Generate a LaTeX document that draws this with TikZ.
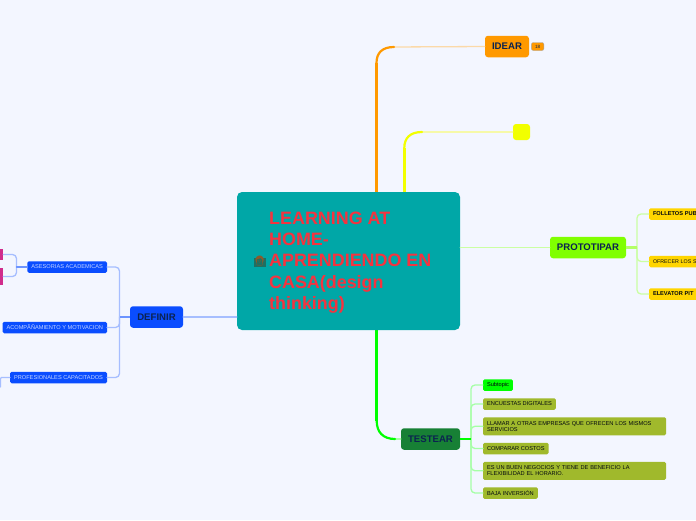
\documentclass[tikz,border=0pt]{standalone}
\usepackage{fontspec}
\setmainfont{Liberation Sans}
\newfontfamily\emojifont{Noto Emoji}
\usepackage{xcolor}
\usepackage{tikz}
\usetikzlibrary{positioning}
\definecolor{pagebg}{HTML}{F3F6FF}
\definecolor{navy}{HTML}{0B2350}
\definecolor{tealroot}{HTML}{00A7A7}
\definecolor{redtitle}{HTML}{F5333F}
\definecolor{orangemain}{HTML}{FF9900}
\definecolor{orangesoft}{HTML}{FBD9A8}
\definecolor{yellowmain}{HTML}{F2FF00}
\definecolor{yellowsoft}{HTML}{F6F9A8}
\definecolor{limemain}{HTML}{80FF00}
\definecolor{limesoft}{HTML}{CBFFA3}
\definecolor{greenmain}{HTML}{00FF00}
\definecolor{greensoft}{HTML}{A6FFA6}
\definecolor{greendark}{HTML}{178035}
\definecolor{olivebox}{HTML}{A0B92C}
\definecolor{goldbox}{HTML}{FFD500}
\definecolor{bluemain}{HTML}{0A4DFF}
\definecolor{bluesoft}{HTML}{A6BEFF}
\definecolor{bluetext}{HTML}{C4D4FF}
\definecolor{pinkbox}{HTML}{D02C8C}
\definecolor{hairbrown}{HTML}{8A5A2B}
\definecolor{emojibody}{HTML}{1F6F62}
\tikzset{
  map diagram/.style={
    x=1pt,
    y=-1pt,
    line cap=round,
    line join=round,
    node distance=7.5pt
  },
  rootbox/.style={
    fill=tealroot,
    rounded corners=5pt,
    minimum width=223pt,
    minimum height=138pt,
    inner sep=0pt
  },
  roottext/.style={
    font=\bfseries\fontsize{17.9}{21.2}\selectfont,
    text=redtitle,
    align=left,
    inner sep=0pt
  },
  mainbox/.style={
    rounded corners=3pt,
    font=\bfseries\fontsize{9.6}{11}\selectfont,
    text=navy,
    minimum height=21.5pt,
    inner sep=0pt
  },
  countbadge/.style={
    draw=black!35,
    fill=orangemain,
    rounded corners=2pt,
    font=\fontsize{4.6}{5}\selectfont,
    text=navy,
    minimum width=12.5pt,
    minimum height=8pt,
    inner sep=0pt
  },
  leafbox/.style={
    rounded corners=1.5pt,
    font=\fontsize{5.65}{6.4}\selectfont,
    text=black!80!navy,
    align=left,
    anchor=west,
    inner xsep=4pt,
    inner ysep=0pt,
    outer sep=0pt,
    minimum height=11.5pt
  },
  olivewide/.style={leafbox, fill=olivebox, text width=175pt, minimum height=18pt},
  oliveleaf/.style={leafbox, fill=olivebox},
  goldleaf/.style={leafbox, fill=goldbox, font=\bfseries\fontsize{5.65}{6.4}\selectfont, text width=60pt},
  blueleaf/.style={leafbox, fill=bluemain, text=bluetext, anchor=east},
  softline/.style={line width=1.3pt},
  thickline/.style={line width=3.2pt, line cap=butt},
  midline/.style={line width=2.2pt}
}
\begin{document}
\begin{tikzpicture}[map diagram]
\path[use as bounding box, clip] (0,0) rectangle (696,520);
\fill[pagebg] (0,0) rectangle (696,520);

% main topics
\node[mainbox, fill=orangemain, minimum width=44pt] (idear) at (507,46.5) {IDEAR};
\node[countbadge, right=2pt of idear] (count) {18};
\node[mainbox, fill=yellowmain, minimum width=17pt, minimum height=16pt] (blank) at (521.5,132) {};
\node[mainbox, fill=limemain, minimum width=76pt] (proto) at (588,247.5) {PROTOTIPAR};
\node[mainbox, fill=greendark, minimum width=59pt] (test) at (430.5,439) {TESTEAR};
\node[mainbox, fill=bluemain, minimum width=53pt] (define) at (156.5,317) {DEFINIR};

% connectors from the root
\coordinate (idearfoot) at (376.5,192);
\coordinate (idearbend) at (376.5,63);
\coordinate (blankfoot) at (404.3,192);
\coordinate (blankbend) at (404.3,148);
\coordinate (testhead) at (376.7,330);
\coordinate (testbend) at (376.7,421);
\draw[softline, orangesoft] (idear.west) -- (392,47);
\draw[softline, yellowsoft] (blank.west) -- (420,132);
\draw[softline, greensoft] (test.west) -- (392,439);
\draw[thickline, orangemain] (idearfoot) -- (idearbend);
\draw[midline, orangemain] (idearbend) .. controls (376.5,53) and (382,47) .. (394,47);
\draw[thickline, yellowmain] (blankfoot) -- (blankbend);
\draw[midline, yellowmain] (blankbend) .. controls (404.3,138) and (410,132) .. (422,132);
\draw[thickline, greenmain] (testhead) -- (testbend);
\draw[midline, greenmain] (testbend) .. controls (376.7,432) and (383,439) .. (395,439);

\node[rootbox] (root) at (348.5,261) {};
\node[roottext, anchor=west] (title) at (269,262.5) {LEARNING AT\\HOME-\\APRENDIENDO EN\\CASA(design\\thinking)};
\fill[emojibody] (253.5,257.5) rectangle (266,267);
\node[inner sep=0pt, text=hairbrown, font=\emojifont\fontsize{10}{10}\selectfont] (face) at (259.7,261.3) {👩};
\draw[softline, limesoft] (root.east |- proto.west) -- (proto.west);
\draw[softline, bluesoft] (define.east) -- (root.west |- define.east);

% prototipar children
\node[goldleaf] (folletos) at (649,214) {FOLLETOS PUB};
\node[goldleaf, font=\fontsize{5.3}{6.4}\selectfont] (ofrecer) at (649,261.5) {OFRECER LOS S};
\node[goldleaf] (elevator) at (649,294) {ELEVATOR PIT};
\coordinate (prototrunk) at (637,247.5);
\draw[softline, limesoft, rounded corners=4pt] (prototrunk) |- (folletos.west);
\draw[softline, limesoft, rounded corners=4pt] (prototrunk) |- (ofrecer.west);
\draw[softline, limesoft, rounded corners=4pt] (prototrunk) |- (elevator.west);
\draw[midline, limemain!60!white, line cap=butt] (proto.east) -- (prototrunk);

% testear children
\node[leafbox, fill=greenmain] (subtopic) at (483,385) {Subtopic};
\node[oliveleaf, below right=7.5pt and 0pt of subtopic.south west] (encuestas) {ENCUESTAS DIGITALES};
\node[olivewide, below right=7.5pt and 0pt of encuestas.south west] (llamar) {LLAMAR A OTRAS EMPRESAS QUE OFRECEN LOS MISMOS\\SERVICIOS};
\node[oliveleaf, below right=7.5pt and 0pt of llamar.south west] (comparar) {COMPARAR COSTOS};
\node[olivewide, below right=7.5pt and 0pt of comparar.south west] (negocio) {ES UN BUEN NEGOCIOS Y TIENE DE BENEFICIO LA\\FLEXIBILIDAD EL HORARIO.};
\node[oliveleaf, below right=7.5pt and 0pt of negocio.south west] (baja) {BAJA INVERSIÓN};
\coordinate (testtrunk) at (471,439);
\foreach \leaf in {subtopic,encuestas,llamar,comparar,negocio,baja}
  \draw[softline, greensoft, rounded corners=4pt] (testtrunk) |- (\leaf.west);
\draw[midline, greenmain, line cap=butt] (test.east) -- (testtrunk);

% definir children
\node[blueleaf] (asesorias) at (107,267) {ASESORIAS ACADEMICAS};
\node[blueleaf] (acompana) at (107,327.5) {ACOMPÃÑAMIENTO Y MOTIVACION};
\node[blueleaf] (profes) at (107,377.5) {PROFESIONALES CAPACITADOS};
\coordinate (definetrunk) at (119.5,317);
\draw[softline, bluesoft, rounded corners=4pt] (definetrunk) |- (asesorias.east);
\draw[softline, bluesoft, rounded corners=4pt] (definetrunk) |- (acompana.east);
\draw[softline, bluesoft, rounded corners=4pt] (definetrunk) |- (profes.east);
\draw[midline, bluemain!60!white, line cap=butt] (define.west) -- (definetrunk);

% pink leaves cut by the page edge
\node[fill=pinkbox, minimum width=6pt, minimum height=11pt, inner sep=0pt] (pinktop) at (0,254.5) {};
\node[fill=pinkbox, minimum width=6pt, minimum height=17pt, inner sep=0pt] (pinklow) at (0,276.5) {};
\coordinate (pinktrunk) at (16.5,267);
\draw[softline, bluesoft, rounded corners=4pt] (pinktrunk) |- (pinktop.east);
\draw[softline, bluesoft, rounded corners=4pt] (pinktrunk) |- (pinklow.east);
\draw[softline, bluemain!60!white] (asesorias.west) -- (pinktrunk);
\coordinate (profesdown) at (0.5,387);
\draw[softline, bluesoft, rounded corners=1pt] (profes.west) -| (profesdown);
\end{tikzpicture}
\end{document}
